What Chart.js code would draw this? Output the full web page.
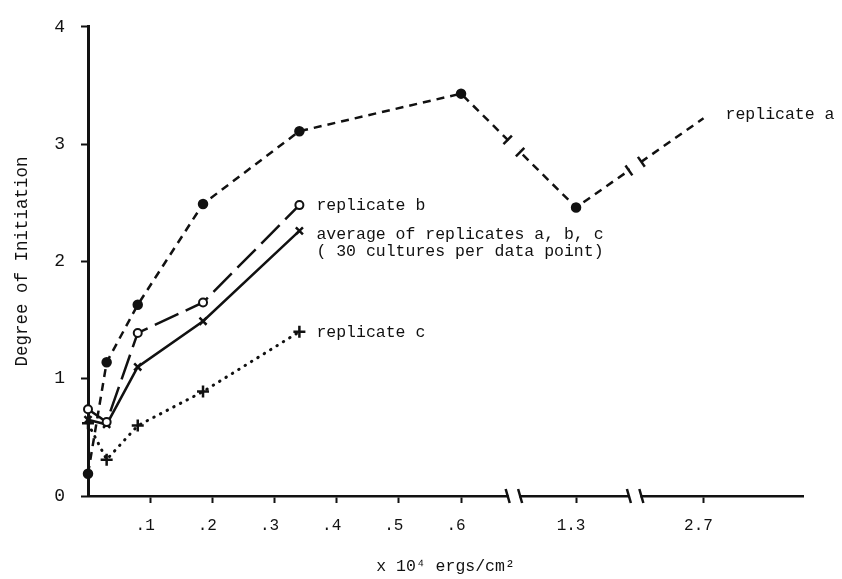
<!DOCTYPE html>
<html>
<head>
<meta charset="utf-8">
<script src="https://cdn.jsdelivr.net/npm/chart.js@4/dist/chart.umd.min.js"></script>
<style>
  html, body { margin: 0; padding: 0; background: #fff; }
  #wrap { width: 842px; height: 579px; }
</style>
</head>
<body>
<div id="wrap"><canvas id="initChart" width="842" height="579"></canvas></div>
<script>
// dose (x 10^4 ergs/cm2) and degree of initiation
const doseLevels = [0, 0.03, 0.08, 0.185, 0.34, 0.6, 1.3, 2.7];
const replicateA = [0.19, 1.14, 1.63, 2.49, 3.11, 3.43, 2.46, 3.22];
const replicateB = [0.74, 0.63, 1.39, 1.65, 2.48];
const averageABC = [0.65, 0.61, 1.10, 1.49, 2.26];
const replicateC = [0.62, 0.31, 0.60, 0.89, 1.40];

const xTickValues = [0.1, 0.2, 0.3, 0.4, 0.5, 0.6, 1.3, 2.7];
const xTickLabels = ['.1', '.2', '.3', '.4', '.5', '.6', '1.3', '2.7'];
const yTickValues = [0, 1, 2, 3, 4];

// x axis is broken between these doses
const axisBreaks = [[0.675, 1.21], [1.385, 2.6]];

const seriesNotes = [
    ['replicate a'],
    ['replicate b'],
    ['average of replicates a, b, c', '( 30 cultures per data point)'],
    ['replicate c']
];

const TYPE_FONT = '"Liberation Mono", "DejaVu Sans Mono", monospace';
const INK = '#111';
const BREAK_GAP = 0.02;

// dose -> position on the compressed axis
function toAxis(d) {
    let shift = 0;
    for (const [a, b] of axisBreaks) {
        if (d <= a) return d - shift;
        if (d < b) return a - shift + (d - a) / (b - a) * BREAK_GAP;
        shift += (b - a) - BREAK_GAP;
    }
    return d - shift;
}

function fromAxis(v) {
    let shift = 0;
    for (const [a, b] of axisBreaks) {
        const va = a - shift;
        if (v <= va) return v + shift;
        if (v < va + BREAK_GAP) return a + (v - va) / BREAK_GAP * (b - a);
        shift += (b - a) - BREAK_GAP;
    }
    return v + shift;
}

class BrokenLinearScale extends Chart.LinearScale {
    configure() {
        super.configure();
        this._startValue = toAxis(this.min);
        this._endValue = toAxis(this.max);
        this._valueRange = this._endValue - this._startValue;
    }
    getPixelForValue(value) {
        return value === null ? NaN : super.getPixelForValue(toAxis(value));
    }
    getValueForPixel(pixel) {
        return fromAxis(super.getValueForPixel(pixel));
    }
}
BrokenLinearScale.id = 'brokenLinear';
BrokenLinearScale.defaults = Chart.LinearScale.defaults;
Chart.register(BrokenLinearScale);

function toPoints(values) {
    return values.map((v, i) => ({ x: doseLevels[i], y: v }));
}

// cuts the axis and the curves at the breaks
const breakPlugin = {
    id: 'axisBreaks',
    afterDatasetsDraw(chart) {
        const ctx = chart.ctx;
        const xs = chart.scales.x;
        const area = chart.chartArea;
        ctx.save();
        axisBreaks.forEach(([a, b]) => {
            const x1 = xs.getPixelForValue(a);
            const x2 = xs.getPixelForValue(b);
            ctx.fillStyle = '#fff';
            ctx.fillRect(x1 + 1, area.top - 5, x2 - x1 - 2, area.bottom - area.top + 9);

            ctx.strokeStyle = INK;
            ctx.lineWidth = 2.5;
            [x1, x2].forEach(x => {
                ctx.beginPath();
                ctx.moveTo(x - 2, area.bottom - 7);
                ctx.lineTo(x + 2, area.bottom + 7);
                ctx.stroke();
            });

            // small caps where a curve is cut
            chart.data.datasets.forEach((ds, di) => {
                const pts = chart.getDatasetMeta(di).data;
                for (let i = 1; i < pts.length; i++) {
                    const p0 = pts[i - 1], p1 = pts[i];
                    if (p0.x < x1 && p1.x > x2) {
                        const ang = Math.atan2(p1.y - p0.y, p1.x - p0.x) + Math.PI / 2;
                        [x1, x2].forEach(x => {
                            const y = p0.y + (p1.y - p0.y) * (x - p0.x) / (p1.x - p0.x);
                            ctx.beginPath();
                            ctx.moveTo(x - Math.cos(ang) * 6, y - Math.sin(ang) * 6);
                            ctx.lineTo(x + Math.cos(ang) * 6, y + Math.sin(ang) * 6);
                            ctx.stroke();
                        });
                    }
                }
            });
        });
        ctx.restore();
    }
};

// typed notes next to the end of each curve
const notesPlugin = {
    id: 'seriesNotes',
    afterDatasetsDraw(chart) {
        const ctx = chart.ctx;
        ctx.save();
        ctx.font = '16.5px ' + TYPE_FONT;
        ctx.fillStyle = INK;
        ctx.textBaseline = 'middle';
        ctx.textAlign = 'left';
        seriesNotes.forEach((lines, di) => {
            const pts = chart.getDatasetMeta(di).data;
            const last = pts[pts.length - 1];
            const dx = di === 0 ? 22 : 17;
            const dy = di === 0 ? -4 : (di === 2 ? 4 : 1);
            lines.forEach((txt, li) => {
                ctx.fillText(txt, last.x + dx, last.y + dy + li * 17);
            });
        });
        ctx.restore();
    }
};

new Chart(document.getElementById('initChart'), {
    type: 'line',
    data: {
        datasets: [
            {
                label: 'replicate a',
                data: toPoints(replicateA),
                borderColor: INK,
                borderWidth: 2.5,
                borderDash: [8, 6],
                pointStyle: 'circle',
                pointRadius: replicateA.map((v, i) => i === replicateA.length - 1 ? 0 : 4),
                pointBackgroundColor: INK,
                pointBorderColor: INK,
                clip: false
            },
            {
                label: 'replicate b',
                data: toPoints(replicateB),
                borderColor: INK,
                borderWidth: 2.5,
                borderDash: [26, 8],
                pointStyle: 'circle',
                pointRadius: 4,
                pointBorderWidth: 2,
                pointBackgroundColor: '#fff',
                pointBorderColor: INK,
                clip: false
            },
            {
                label: 'average of replicates a, b, c',
                data: toPoints(averageABC),
                borderColor: INK,
                borderWidth: 2.5,
                pointStyle: 'crossRot',
                pointRadius: 5,
                pointBorderWidth: 2.5,
                pointBorderColor: INK,
                clip: false
            },
            {
                label: 'replicate c',
                data: toPoints(replicateC),
                borderColor: INK,
                borderWidth: 3,
                borderDash: [0.5, 7],
                borderCapStyle: 'round',
                pointStyle: 'cross',
                pointRadius: 6,
                pointBorderWidth: 2.5,
                pointBorderColor: INK,
                clip: false
            }
        ]
    },
    options: {
        responsive: false,
        animation: false,
        layout: { padding: { top: 13, right: 39, bottom: 0, left: 0 } },
        plugins: {
            legend: { display: false },
            tooltip: { enabled: false }
        },
        scales: {
            x: {
                type: 'brokenLinear',
                min: 0,
                max: 2.86,
                afterFit: (scale) => { scale.height = 83; },
                afterBuildTicks: (scale) => {
                    scale.ticks = xTickValues.map(v => ({ value: v }));
                },
                ticks: {
                    autoSkip: false,
                    maxRotation: 0,
                    padding: 13,
                    labelOffset: -5,
                    color: INK,
                    font: { family: TYPE_FONT, size: 16 },
                    callback: (value, index) => xTickLabels[index]
                },
                grid: {
                    drawOnChartArea: false,
                    drawTicks: true,
                    tickLength: 7,
                    tickWidth: 2,
                    tickColor: INK
                },
                border: { display: true, color: INK, width: 2.5 },
                title: {
                    display: true,
                    text: 'x 10\u2074 ergs/cm\u00b2',
                    color: INK,
                    font: { family: TYPE_FONT, size: 16.5 },
                    padding: { top: 0, bottom: 2 }
                }
            },
            y: {
                type: 'linear',
                min: 0,
                max: 4,
                afterFit: (scale) => { scale.width = 88; },
                afterBuildTicks: (scale) => {
                    scale.ticks = yTickValues.map(v => ({ value: v }));
                },
                ticks: {
                    padding: 16,
                    color: INK,
                    font: { family: TYPE_FONT, size: 18 }
                },
                grid: {
                    drawOnChartArea: false,
                    drawTicks: true,
                    tickLength: 7,
                    tickWidth: 2,
                    tickColor: INK
                },
                border: { display: true, color: INK, width: 3 },
                title: {
                    display: true,
                    text: 'Degree of Initiation',
                    color: INK,
                    font: { family: TYPE_FONT, size: 17.5 },
                    padding: { top: 12, bottom: 0 }
                }
            }
        }
    },
    plugins: [breakPlugin, notesPlugin]
});
</script>
</body>
</html>
